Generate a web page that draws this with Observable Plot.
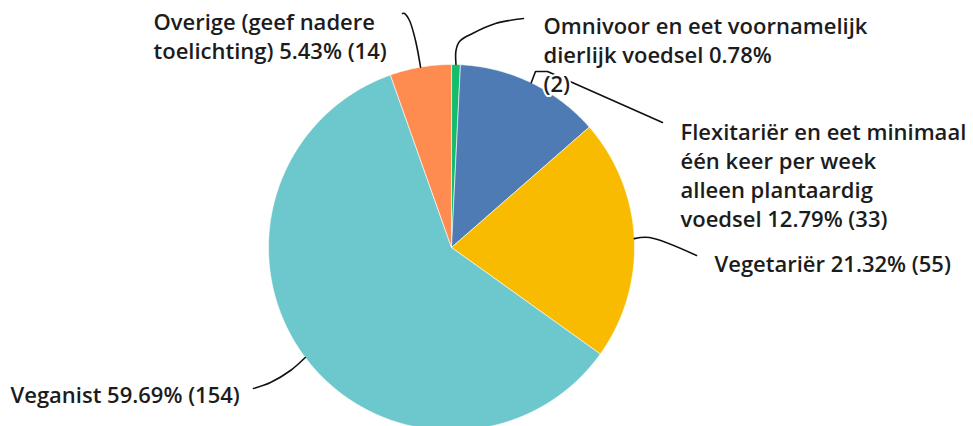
<!DOCTYPE html>
<html>
<head>
<meta charset="utf-8">
<script src="https://cdn.jsdelivr.net/npm/d3@7"></script>
<script src="https://cdn.jsdelivr.net/npm/@observablehq/plot@0.6"></script>
<style>
  html, body { margin: 0; padding: 0; background: #fff; }
  #chart { width: 973px; height: 426px; overflow: hidden; }
</style>
</head>
<body>
<div id="chart"></div>
<script>
// ---- Data ----
const categories = [
  "Omnivoor en eet voornamelijk dierlijk voedsel",
  "Flexitariër en eet minimaal één keer per week alleen plantaardig voedsel",
  "Vegetariër",
  "Veganist",
  "Overige (geef nadere toelichting)"
];
const percentages = [0.78, 12.79, 21.32, 59.69, 5.43];
const counts = [2, 33, 55, 154, 14];
const colors = ["#13bd6c", "#4e7bb4", "#f8bb00", "#6cc8cd", "#fe8b4f"];

// label line-wrapping (layout)
const labelLines = [
  ["Omnivoor en eet voornamelijk", "dierlijk voedsel {p}", "{c}"],
  ["Flexitariër en eet minimaal", "één keer per week", "alleen plantaardig", "voedsel {p} {c}"],
  ["Vegetariër {p} {c}"],
  ["Veganist {p} {c}"],
  ["Overige (geef nadere", "toelichting) {p} {c}"]
];

// ---- Layout (pixels) ----
const W = 973, H = 426, CX = 451, CY = 247, R = 183;
const labelPos = [[543, 53], [680, 174], [714, 262], [10, 393], [153, 34.5]];
const leaderBends = [
  [[455.5, 50], [459, 41], [472, 33], [495, 23], [523, 18]],
  [[535, 71], [547, 71], [662, 122]],
  [[649, 237], [696, 255]],
  [[290, 370], [270, 382], [253, 388]],
  [[415, 40], [409, 20], [404, 13], [402, 13]]
];
const leaderCurves = ["catmull-rom", "linear", "catmull-rom", "catmull-rom", "catmull-rom"];
const toData = ([px, py]) => [(px - CX) / R, (CY - py) / R];

// ---- Derived geometry ----
const slices = [];
const mids = [];
let cum = 0;
percentages.forEach((p, i) => {
  const a0 = cum / 100 * 2 * Math.PI;
  cum += p;
  const a1 = cum / 100 * 2 * Math.PI;
  mids.push((a0 + a1) / 2);
  const n = Math.max(2, Math.ceil((a1 - a0) * 80));
  slices.push({i, cat: categories[i], x: 0, y: 0});
  for (let k = 0; k <= n; k++) {
    const a = a0 + (a1 - a0) * k / n;
    slices.push({i, cat: categories[i], x: Math.sin(a), y: Math.cos(a)});
  }
  slices.push({i, cat: categories[i], x: 0, y: 0});
});

const leaderMarks = mids.map((a, i) => {
  const pts = [{x: Math.sin(a), y: Math.cos(a)}];
  leaderBends[i].forEach(pt => {
    const [x, y] = toData(pt);
    pts.push({x, y});
  });
  return Plot.line(pts, {x: "x", y: "y", stroke: "#111", strokeWidth: 1.6, curve: leaderCurves[i]});
});

const labels = categories.map((c, i) => {
  const [x, y] = toData(labelPos[i]);
  const text = labelLines[i]
    .map(l => l.replace("{p}", percentages[i].toFixed(2) + "%").replace("{c}", "(" + counts[i] + ")"))
    .join("\n");
  return {x, y, text};
});

const chart = Plot.plot({
  width: W,
  height: H,
  margin: 0,
  x: {domain: [-1, 1], range: [CX - R, CX + R], axis: null},
  y: {domain: [-1, 1], range: [CY + R, CY - R], axis: null},
  color: {domain: categories, range: colors},
  style: {fontFamily: "'Open Sans', sans-serif", background: "white", overflow: "hidden"},
  marks: [
    Plot.line(slices, {x: "x", y: "y", z: "i", fill: "cat", stroke: "white", strokeWidth: 0.6, curve: "linear"}),
    ...leaderMarks,
    Plot.text(labels, {
      x: "x", y: "y", text: "text",
      textAnchor: "start", lineAnchor: "middle", lineHeight: 1.32,
      fontSize: 22, fontWeight: 600, fill: "#1c1c1c",
      stroke: "white", strokeWidth: 4
    })
  ]
});
document.getElementById("chart").appendChild(chart);
</script>
</body>
</html>
